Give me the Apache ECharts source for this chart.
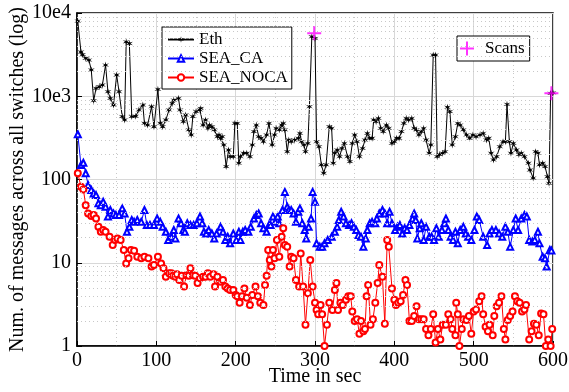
<!DOCTYPE html>
<html>
<head>
<meta charset="utf-8">
<script src="https://cdn.jsdelivr.net/npm/echarts@6/dist/echarts.min.js"></script>
<style>html,body{margin:0;padding:0;background:#fff;}#c{width:569px;height:392px;}</style>
</head>
<body>
<div id="c"></div>
<script>
// ---- data ----
const xTicks = [0, 100, 200, 300, 400, 500, 600];
const yTickLabels = {1: '1', 10: '10', 100: '100', 1000: '10e3', 10000: '10e4'};
const yMinorTicks = [2,3,4,5,6,7,8,9,20,30,40,50,60,70,80,90,200,300,400,500,600,700,800,900,2000,3000,4000,5000,6000,7000,8000,9000];

const ethTime = [1,5,7,11,15,18,21,24,28,32,36,39,42,46,50,53,57,60,62,66,69,74,78,83,85,89,94,97,102,105,108,112,116,120,122,128,130,134,137,141,144,146,150,155,156,159,162,165,167,170,173,177,179,181,183,185,188,191,193,197,199,202,204,206,210,214,218,221,223,226,229,232,235,239,242,246,249,251,255,258,260,262,265,267,270,274,279,281,283,286,288,291,293,296,300,302,305,308,311,314,318,321,323,325,328,331,334,337,341,344,347,350,353,356,360,363,366,369,372,374,377,380,383,386,390,393,397,400,403,406,409,412,415,418,422,425,428,431,434,437,440,444,446,449,452,454,457,461,464,467,470,473,477,480,483,487,491,495,499,503,508,512,516,519,522,525,529,533,537,540,542,545,547,550,554,557,560,564,569,571,575,578,581,583,587,590,593,595,597,600];
const ethVal = [8000,3400,3150,2860,2720,2070,885,1245,1300,1365,2370,1135,945,785,1800,1135,570,520,4500,4300,570,575,685,785,475,450,750,430,1210,475,430,520,685,820,900,945,685,495,595,395,343,570,655,685,715,450,520,412,450,430,395,327,343,313,327,260,143,226,188,188,473,473,157,188,207,207,188,260,376,450,327,313,285,343,473,260,343,412,395,450,473,395,216,298,285,298,313,359,285,260,216,272,750,5190,4950,285,248,150,119,150,431,412,157,207,226,188,237,272,188,164,272,343,285,188,237,298,359,313,313,520,495,543,412,376,450,412,272,285,313,313,376,473,543,520,543,412,395,343,376,412,298,207,260,3125,3125,188,199,207,216,740,655,260,327,473,450,395,343,313,343,327,343,359,298,313,207,172,188,248,285,285,800,285,207,272,226,199,207,188,157,130,104,216,207,150,157,143,108,90,1085,1100];

const caTime = [1,5,8,11,14,18,21,24,27,30,33,36,39,42,46,49,53,57,60,63,66,69,72,76,81,85,88,92,97,101,105,108,112,115,119,122,124,128,131,134,136,139,143,147,151,155,158,160,163,166,170,173,176,181,184,187,190,193,197,201,204,206,209,212,216,219,223,226,229,232,235,239,242,244,247,250,253,255,259,262,265,267,270,273,276,279,281,284,287,289,292,295,297,300,302,306,309,312,316,321,325,328,330,333,336,339,343,346,349,352,355,358,361,364,366,369,372,376,378,381,385,388,391,394,397,401,404,407,410,413,416,419,423,425,427,429,432,434,437,440,444,447,450,453,456,460,463,465,468,471,474,477,480,483,487,490,493,497,501,504,507,512,517,520,523,528,532,536,540,543,546,550,553,556,560,564,567,570,574,577,581,583,587,590,592,596,598];
const caVal = [350,149,159,119,86,75,68,65,52,49,54,47,36,43,39,37.5,37.5,45,39,23.6,27,32.6,31,32.6,31,43,28.4,28.4,28.4,34,31,27,23.6,18.8,20.5,24.7,19.6,34,29.8,24.7,23.6,29.8,28.4,28.4,29.8,36,29.8,23.6,22.5,24.7,22.5,19.6,22.5,27,23.6,18.8,20.5,17.1,22.5,18.8,23.6,18.8,23.6,24.7,23.6,27,34,37.5,39,29.8,26,23.6,28.4,28.4,36,31,36,29.8,43,71,47,43,43,39,31,41,45,29.8,24.7,19.6,27,34,71,54,17.1,15.6,15.6,17.1,18.8,20.5,23.6,27,32.6,41,36,29.8,28.4,29.8,27,24.7,21.6,20.5,15.6,19.6,24.7,29.8,31,29.8,34,39,43,39,29.8,41,29.8,24.7,27,28.4,22.5,26,24.7,28.4,34,39,32.6,19.6,26,29.8,18.8,27,20.5,20.5,18.8,26,20.5,24.7,29.8,34,24.7,20.5,18.8,23.6,17.1,24.7,27,22.5,20.5,18.8,24.7,36,32.6,20.5,16.3,22.5,24.7,24.7,22.5,20.5,27,23.6,15.6,24.7,34,24.7,34,37.5,36,18.8,18,18.8,23.6,17.1,11.8,11.3,9,14.2,14];

const nocaTime = [1,5,8,11,14,18,21,24,27,30,33,36,41,45,48,51,55,59,62,65,68,72,76,81,85,90,94,97,102,106,109,112,116,119,121,124,126,129,132,135,138,141,143,146,149,152,155,159,162,165,168,172,174,177,181,184,187,190,193,197,200,202,205,208,211,214,218,221,225,228,231,235,237,239,241,243,245,247,249,252,255,258,260,262,265,268,270,273,276,280,282,285,288,291,294,297,300,302,304,307,309,312,315,318,322,325,327,329,332,335,339,342,345,347,350,353,356,358,361,363,365,367,370,373,376,379,381,385,388,391,393,397,400,402,405,408,411,414,416,419,422,425,428,431,434,437,440,443,446,449,452,455,458,461,465,468,471,473,477,478,480,482,485,487,491,494,497,500,503,507,510,512,515,518,520,524,526,529,532,535,538,540,543,546,549,552,555,558,561,564,566,570,573,576,579,582,585,588,591,594,597,599];
const nocaVal = [119,82,76,49,39,36.5,37.5,34,27,23.6,24.7,23.6,20.5,16.3,18.8,19.6,18.8,14.2,9.8,11.3,14.2,13.9,11.8,11.3,11.8,11.3,9,9.4,11.8,9.8,8.6,6.8,7.5,7.5,7.0,6.8,7.3,6.2,7.0,5.2,7.1,7.0,8.6,7.1,7.0,5.7,6.5,6.8,6.8,7.5,6.8,7.3,5.2,6.8,5.9,6.2,5.2,4.9,4.7,4.7,4.1,3.95,3.3,3.95,4.9,3.8,3.1,4.1,5.2,3.95,3.3,3.1,5.4,7.0,14.2,10.8,9,14.2,11.3,18.8,11.8,20.5,26,16.3,15.6,9,11.8,11.3,6.2,5.2,12.9,5.2,1.8,4.3,10.8,5.2,3.3,2.7,2.4,3.1,2.4,1.0,1.8,3.3,2.7,4.7,5.7,2.7,3.3,3.1,3.6,3.95,3.95,2.6,2.0,2.1,1.4,2.0,1.5,1.6,3.95,5.4,1.8,2.1,3.3,5.7,9.4,6.8,1.85,18.8,15.6,4.9,3.6,3.1,3.3,3.45,4.1,6.2,5.4,2.0,2.0,2.3,3.0,2.1,2.1,2.1,1.6,1.35,1.6,2.4,1.1,1.6,1.2,1.8,1.8,2.4,2.1,1.6,1.35,3.3,2.4,1.0,1.6,2.1,2.05,2.3,1.4,2.6,2.75,3.45,3.95,2.4,1.7,1.5,1.8,1.35,2.3,3.0,3.3,3.95,1.6,1.2,2.05,2.3,2.6,3.95,3.45,3.3,2.6,2.75,3.1,1.2,1.5,1.85,1.8,1.35,2.45,2.4,1.0,1.2,1.0,1.6];

const scanTime = [299, 598];
const scanVal = [5700, 1085];

// ---- chart ----
const FONT = "'Liberation Serif','Times New Roman',serif";
const starPath = 'path://M0,-10L1.5,-2.6L8.66,-5L3,0L8.66,5L1.5,2.6L0,10L-1.5,2.6L-8.66,5L-3,0L-8.66,-5L-1.5,-2.6Z';
const plusPath = 'path://M-1,-7L1,-7L1,-1L7,-1L7,1L1,1L1,7L-1,7L-1,1L-7,1L-7,-1L-1,-1Z';
const pairs = (t, v) => t.map((x, i) => [x, v[i]]);

const chart = echarts.init(document.getElementById('c'), null, {renderer: 'canvas'});
chart.setOption({
  animation: false,
  backgroundColor: '#fff',
  textStyle: {fontFamily: FONT},
  grid: {left: 77, right: 16, top: 13, bottom: 46, containLabel: false, outerBoundsMode: 'none',
    show: true, borderColor: '#000', borderWidth: 1.5, backgroundColor: 'transparent'},
  legend: [
    {
      left: 162, top: 27, orient: 'vertical',
      data: ['Eth', 'SEA_CA', 'SEA_NOCA'],
      itemWidth: 26, itemHeight: 8, itemGap: 2,
      padding: [4, 4, 3, 5],
      borderColor: '#000', borderWidth: 1, backgroundColor: '#fff',
      textStyle: {fontSize: 17, fontFamily: FONT, color: '#000', lineHeight: 17}
    },
    {
      left: 457, top: 36,
      data: [{name: 'Scans', icon: plusPath}],
      itemWidth: 26, itemHeight: 14,
      padding: [4, 5, 4, 3],
      borderColor: '#000', borderWidth: 1, backgroundColor: '#fff',
      textStyle: {fontSize: 17, fontFamily: FONT, color: '#000', lineHeight: 17}
    }
  ],
  xAxis: {
    type: 'value', min: xTicks[0], max: xTicks[xTicks.length - 1], interval: 100,
    name: 'Time in sec', nameLocation: 'middle', nameGap: 21, nameMoveOverlap: false,
    nameTextStyle: {fontSize: 20, fontFamily: FONT, color: '#000'},
    axisLine: {show: true, lineStyle: {color: '#000', width: 1.5}},
    axisTick: {show: true, inside: true, length: 5, lineStyle: {color: '#000'}},
    axisLabel: {fontSize: 20, fontFamily: FONT, color: '#000', margin: 5},
    splitLine: {show: true, lineStyle: {color: '#d8d8d8', width: 1}},
    minorTick: {show: false, splitNumber: 2},
    minorSplitLine: {show: true, lineStyle: {color: '#c8c8c8', type: [1, 3], width: 1}}
  },
  yAxis: {
    type: 'log', logBase: 10, min: 1, max: 10000,
    name: 'Num. of messages across all switches (log)', nameLocation: 'middle', nameGap: 49, nameMoveOverlap: false,
    nameTextStyle: {fontSize: 20, fontFamily: FONT, color: '#000'},
    axisLine: {show: true, lineStyle: {color: '#000', width: 1.5}},
    axisTick: {show: true, inside: true, length: 5, lineStyle: {color: '#000'}},
    axisLabel: {fontSize: 20, fontFamily: FONT, color: '#000', margin: 6,
      formatter: v => yTickLabels[Math.round(v)] !== undefined ? yTickLabels[Math.round(v)] : ''},
    splitLine: {show: true, lineStyle: {color: '#d8d8d8', width: 1}}
  },
  series: [
    {
      name: '_minor', type: 'line', data: [], z: 1, silent: true,
      markLine: {
        silent: true, symbol: ['none', 'none'], animation: false,
        label: {show: false},
        lineStyle: {color: '#c8c8c8', type: [1, 3], width: 1},
        data: yMinorTicks.map(v => ({yAxis: v}))
      }
    },
    {
      name: 'Eth', type: 'line', data: pairs(ethTime, ethVal), z: 3,
      symbol: starPath, symbolSize: 7, showAllSymbol: true,
      lineStyle: {color: '#000', width: 1}, itemStyle: {color: '#000'}
    },
    {
      name: 'SEA_CA', type: 'line', data: pairs(caTime, caVal), z: 3,
      symbol: 'emptyTriangle', symbolSize: 6, showAllSymbol: true,
      lineStyle: {color: '#0000ff', width: 1}, itemStyle: {color: '#0000ff', borderWidth: 1}
    },
    {
      name: 'SEA_NOCA', type: 'line', data: pairs(nocaTime, nocaVal), z: 3,
      symbol: 'emptyCircle', symbolSize: 6, showAllSymbol: true,
      lineStyle: {color: '#ff0000', width: 1}, itemStyle: {color: '#ff0000', borderWidth: 1}
    },
    {
      name: 'Scans', type: 'scatter', data: pairs(scanTime, scanVal), z: 5,
      symbol: plusPath, symbolSize: 14,
      itemStyle: {color: '#ff00ff'}
    }
  ]
});
</script>
</body>
</html>
